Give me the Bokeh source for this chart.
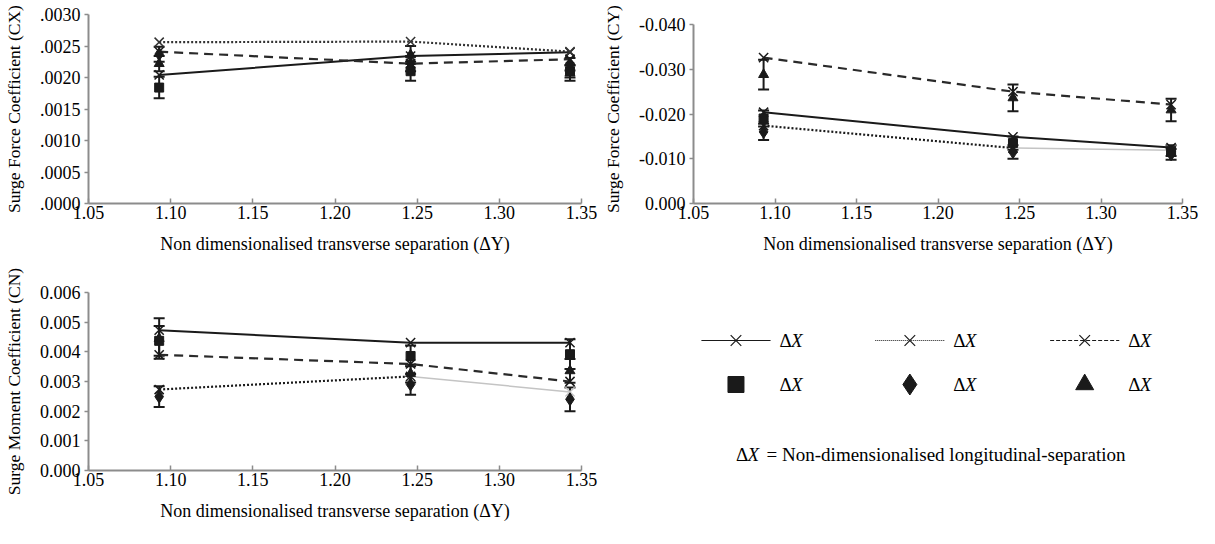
from bokeh.plotting import figure
from bokeh.models import (ColumnDataSource, Range1d, FixedTicker, Whisker, TeeHead)
from bokeh.core.properties import value
from bokeh.layouts import row, column
from bokeh.embed import file_html
from bokeh.resources import INLINE

# ---------------- data ----------------
dy = [1.093, 1.246, 1.343]
x_ticks = [1.05, 1.10, 1.15, 1.20, 1.25, 1.30, 1.35]
x_tick_labels = ["1.05", "1.10", "1.15", "1.20", "1.25", "1.30", "1.35"]
x_title = "Non dimensionalised transverse separation (\u0394Y)"

# Surge force coefficient C_X
cx_ticks = [0.0, 0.0005, 0.0010, 0.0015, 0.0020, 0.0025, 0.0030]
cx_tick_labels = [".0000", ".0005", ".0010", ".0015", ".0020", ".0025", ".0030"]
cx_line1 = [0.00204, 0.00234, 0.00240]
cx_line2 = [0.00256, 0.00257, 0.00241]
cx_line3 = [0.00241, 0.00222, 0.00229]
cx_sq = [0.00184, 0.00210, 0.00210]
cx_sq_err = [0.00017, 0.00015, 0.00010]
cx_di = [0.00237, 0.00222, 0.00221]
cx_di_err = [0.00012, 0.00012, 0.00010]
cx_tr = [0.00222, 0.00236, 0.00207]
cx_tr_err = [0.00012, 0.00014, 0.00012]

# Force coefficient C_Y
cy_ticks = [0.0, -0.010, -0.020, -0.030, -0.040]
cy_tick_labels = ["0.000", "-0.010", "-0.020", "-0.030", "-0.040"]
cy_line1 = [-0.0204, -0.0149, -0.0125]
cy_line2 = [-0.0174, -0.0124, -0.0119]
cy_line3 = [-0.0326, -0.0250, -0.0221]
cy_sq = [-0.0190, -0.0135, -0.0118]
cy_sq_err = [0.0018, 0.0015, 0.0012]
cy_di = [-0.0160, -0.0115, -0.0110]
cy_di_err = [0.0018, 0.0015, 0.0012]
cy_tr = [-0.0288, -0.0236, -0.0209]
cy_tr_err = [0.0033, 0.0030, 0.0025]

# Moment coefficient C_N
cn_ticks = [0.0, 0.001, 0.002, 0.003, 0.004, 0.005, 0.006]
cn_tick_labels = ["0.000", "0.001", "0.002", "0.003", "0.004", "0.005", "0.006"]
cn_line1 = [0.00473, 0.00431, 0.00431]
cn_line2 = [0.00273, 0.00317, 0.00265]
cn_line3 = [0.00390, 0.00359, 0.00300]
cn_sq = [0.00437, 0.00386, 0.00392]
cn_sq_err = [0.00050, 0.00035, 0.00050]
cn_di = [0.00249, 0.00290, 0.00240]
cn_di_err = [0.00035, 0.00035, 0.00040]
cn_tr = [0.00445, 0.00327, 0.00336]
cn_tr_err = [0.00068, 0.00030, 0.00040]

legend_delta = "\u0394"
legend_var = "X"
note_rest = "= Non-dimensionalised longitudinal-separation"

# ---------------- style ----------------
FONT = "Liberation Serif"
AX = "#8c8c8c"
INK = "#1a1a1a"
FADE = "#c4c4c4"


def make_panel(width, height, yr, ybounds, yticks, ylabels, ytitle, borders,
               l1, l2, l3, sq, sqe, di, die, tr, tre, fade_last):
    p = figure(width=width, height=height, x_range=Range1d(1.05, 1.35), y_range=yr,
               output_backend="svg", toolbar_location=None,
               min_border_left=borders[0], min_border_right=borders[1],
               min_border_top=borders[2], min_border_bottom=borders[3])
    p.outline_line_color = None
    p.grid.visible = False
    p.background_fill_color = "white"

    p.xaxis.ticker = FixedTicker(ticks=x_ticks)
    p.xaxis.major_label_overrides = dict(zip(x_ticks, x_tick_labels))
    p.yaxis.ticker = FixedTicker(ticks=yticks)
    p.yaxis.major_label_overrides = dict(zip(yticks, ylabels))
    p.yaxis.bounds = ybounds
    p.xaxis.axis_label = x_title
    p.yaxis.axis_label = ytitle
    for ax in (p.xaxis, p.yaxis):
        ax.axis_line_color = AX
        ax.axis_line_width = 2
        ax.major_tick_line_color = AX
        ax.major_tick_line_width = 1.5
        ax.minor_tick_line_color = None
        ax.major_label_text_font = FONT
        ax.major_label_text_font_size = "18px"
        ax.major_label_text_color = "black"
        ax.axis_label_text_font = FONT
        ax.axis_label_text_font_style = "normal"
        ax.axis_label_text_color = "black"
    p.xaxis.axis_label_text_font_size = "18px"
    p.yaxis.axis_label_text_font_size = "17.5px"
    p.xaxis.major_tick_in = 5
    p.xaxis.major_tick_out = 0
    p.xaxis.major_label_standoff = 2
    p.xaxis.axis_label_standoff = 12
    p.yaxis.major_tick_in = 0
    p.yaxis.major_tick_out = 4
    p.yaxis.major_label_standoff = 4
    p.yaxis.axis_label_standoff = 13

    # error bars of experimental data
    for vals, errs in ((sq, sqe), (di, die), (tr, tre)):
        src = ColumnDataSource(dict(x=dy,
                                    upper=[v + e for v, e in zip(vals, errs)],
                                    lower=[v - e for v, e in zip(vals, errs)]))
        w = Whisker(base="x", upper="upper", lower="lower", source=src,
                    line_color=INK, line_width=2,
                    upper_head=TeeHead(size=11, line_color=INK, line_width=2),
                    lower_head=TeeHead(size=11, line_color=INK, line_width=2))
        p.add_layout(w)

    # numerical (line) series
    p.line(dy, l1, line_color=INK, line_width=2)
    p.scatter(dy, l1, marker="x", size=13, line_color=INK, line_width=1.5)
    if fade_last:
        p.line(dy[:2], l2[:2], line_color=INK, line_width=2.2, line_dash="2 2")
        p.line(dy[1:], l2[1:], line_color=FADE, line_width=1.5)
        p.scatter(dy[:2], l2[:2], marker="x", size=13, line_color=INK, line_width=1.5)
        p.scatter(dy[2:], l2[2:], marker="x", size=13, line_color=FADE, line_width=1.5)
    else:
        p.line(dy, l2, line_color="#333333", line_width=2.2, line_dash="2 2")
        p.scatter(dy, l2, marker="x", size=13, line_color="#333333", line_width=1.5)
    p.line(dy, l3, line_color="#2a2a2a", line_width=2.2, line_dash="9 6")
    p.scatter(dy, l3, marker="x", size=13, line_color=INK, line_width=1.5)

    # experimental markers
    p.scatter(dy, sq, marker="square", size=9, fill_color=INK, line_color=INK)
    p.scatter(dy, di, marker="diamond", size=13, fill_color=INK, line_color=INK)
    p.scatter(dy, tr, marker="triangle", size=10, fill_color=INK, line_color=INK)
    return p


TOP_BORDERS_L = (86, 19, 14, 59)
TOP_BORDERS_R = (87, 17, 14, 59)
# frame of the top row is 189 px high; the C_Y axis itself occupies the lower 179 px
cy_end = -0.040 * 189.0 / 179.0

p1 = make_panel(600, 262, Range1d(0.0, 0.003), (0.0, 0.003), cx_ticks, cx_tick_labels,
                "Surge Force Coefficient (CX)", TOP_BORDERS_L,
                cx_line1, cx_line2, cx_line3, cx_sq, cx_sq_err, cx_di, cx_di_err,
                cx_tr, cx_tr_err, False)
p2 = make_panel(599, 262, Range1d(0.0, cy_end), (-0.040, 0.0), cy_ticks, cy_tick_labels,
                "Surge Force Coefficient (CY)", TOP_BORDERS_R,
                cy_line1, cy_line2, cy_line3, cy_sq, cy_sq_err, cy_di, cy_di_err,
                cy_tr, cy_tr_err, True)
p3 = make_panel(600, 266, Range1d(0.0, 0.006), (0.0, 0.006), cn_ticks, cn_tick_labels,
                "Surge Moment Coefficient (CN)", (86, 19, 30, 58),
                cn_line1, cn_line2, cn_line3, cn_sq, cn_sq_err, cn_di, cn_di_err,
                cn_tr, cn_tr_err, True)

# ---------------- key panel: coordinates are page pixels (y measured from top) ----------
pl = figure(width=599, height=266, x_range=Range1d(695, 1190), y_range=Range1d(536, 270),
            output_backend="svg", toolbar_location=None,
            min_border_left=87, min_border_right=17, min_border_top=0, min_border_bottom=0,
            x_axis_location=None, y_axis_location=None)
pl.grid.visible = False
pl.outline_line_color = None

key_cols = [738, 914, 1091]     # centres of key glyphs
key_rows = [348, 392]           # row centres
key_half = 35                   # half length of key line samples
key_dash = [None, "1 1", "4 2"]
key_markers = ["square", "diamond", "triangle"]
key_msize = [16, 21, 18]
lab_off = 44                    # offset of key text from glyph centre

for c, dash, mk, ms in zip(key_cols, key_dash, key_markers, key_msize):
    kw = dict(line_color=INK, line_width=1.2)
    if dash:
        kw["line_dash"] = dash
    pl.line([c - key_half, c + key_half], [key_rows[0], key_rows[0]], **kw)
    pl.scatter([c], [key_rows[0]], marker="x", size=15, line_color=INK, line_width=1.2)
    pl.scatter([c], [key_rows[1]], marker=mk, size=ms, fill_color=INK, line_color=INK)
    for r in key_rows:
        pl.text([c + lab_off], [r], text=[legend_delta], text_font=value(FONT),
                text_font_size="19px", text_baseline="middle", text_align="left",
                text_color="black")
        pl.text([c + lab_off + 11.6], [r], text=[legend_var], text_font=value(FONT),
                text_font_size="19px", text_font_style="italic", text_baseline="middle",
                text_align="left", text_color="black")

note_x = 738
note_y = 462
pl.text([note_x], [note_y], text=[legend_delta], text_font=value(FONT),
        text_font_size="19px", text_baseline="middle", text_align="left", text_color="black")
pl.text([note_x + 11.6], [note_y], text=[legend_var], text_font=value(FONT),
        text_font_size="19px", text_font_style="italic", text_baseline="middle",
        text_align="left", text_color="black")
pl.text([note_x + 31], [note_y], text=[note_rest], text_font=value(FONT),
        text_font_size="19px", text_baseline="middle", text_align="left", text_color="black")

layout = row(column(p1, p3), column(p2, pl))
open("out.html", "w").write(file_html(layout, INLINE))
